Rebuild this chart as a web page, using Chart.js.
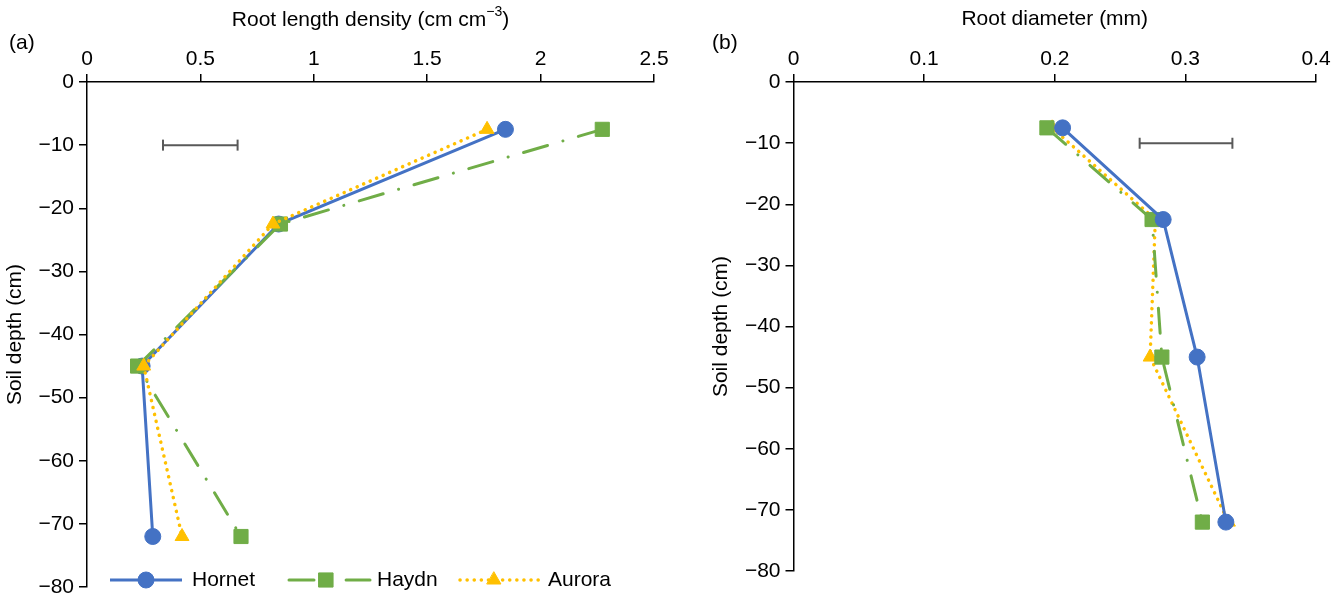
<!DOCTYPE html>
<html>
<head>
<meta charset="utf-8">
<script src="https://cdn.jsdelivr.net/npm/chart.js@4"></script>
<style>
  body { margin:0; background:#fff; width:1343px; height:598px; overflow:hidden; font-family:'Liberation Sans', Arial, sans-serif; }
  .box { position:absolute; top:0; height:598px; }
  #boxA { left:0; width:680px; }
  #boxB { left:690px; width:653px; }
  .tag { position:absolute; top:30px; font-size:21px; color:#000; }
</style>
</head>
<body>
<div class="box" id="boxA"><canvas id="chartA"></canvas></div>
<div class="box" id="boxB"><canvas id="chartB"></canvas></div>
<div class="tag" style="left:9px">(a)</div>
<div class="tag" style="left:712px">(b)</div>
<script>
// dubine (cm) i vrijednosti po sortama
const dubine = [-7.5, -22.5, -45, -72];
const sorte = ['Hornet', 'Haydn', 'Aurora'];
const boje = ['#4472C4', '#70AD47', '#FFC000'];

const gustinaHornet = [1.845, 0.845, 0.243, 0.29];
const gustinaHaydn = [2.272, 0.853, 0.223, 0.679];
const gustinaAurora = [1.764, 0.82, 0.25, 0.419];

const promjerHornet = [0.206, 0.283, 0.309, 0.331];
const promjerHaydn = [0.194, 0.2745, 0.282, 0.313];
const promjerAurora = [0.198, 0.277, 0.273, 0.333];

// LSD bar (x od-do, y)
const lsdGustina = [0.335, 0.664];
const lsdPromjer = [0.265, 0.336];
const lsdDubina = -10;

const font = "'Liberation Sans', Arial, sans-serif";
const fs = 21;

function serija(ime, xs, red) {
    let i = sorte.indexOf(ime);
    let s = {
        label: ime,
        data: xs.map((x, k) => ({x: x, y: dubine[k]})),
        showLine: true,
        borderColor: boje[i],
        backgroundColor: boje[i],
        pointBackgroundColor: boje[i],
        pointBorderColor: boje[i],
        pointBorderWidth: 1,
        borderWidth: 3,
        order: red
    };
    if (i === 0) { s.pointStyle = 'circle'; s.pointRadius = 8; }
    if (i === 1) { s.pointStyle = 'rect'; s.pointRadius = 10; s.borderDash = [25, 16, 0.1, 16]; s.borderCapStyle = 'round'; }
    if (i === 2) { s.pointStyle = 'triangle'; s.pointRadius = 8; s.borderDash = [0.1, 7]; s.borderCapStyle = 'round'; s.borderWidth = 3.5; }
    return s;
}

function lsd(xs) {
    return {
        label: 'lsd',
        data: xs.map(x => ({x: x, y: lsdDubina})),
        showLine: true,
        borderColor: '#595959',
        borderWidth: 2,
        pointStyle: 'line',
        pointRotation: 90,
        pointRadius: 5.5,
        pointBorderColor: '#595959',
        pointBorderWidth: 2,
        order: 0
    };
}

function minus(v) {
    return v < 0 ? '\u2212' + Math.abs(v) : String(v);
}

function broj(v) {
    return String(Number(v.toFixed(3)));
}

function skale(xmax, korak, naslov, yW, xH, yTitlePad) {
    return {
        x: {
            type: 'linear', position: 'top', min: 0, max: xmax,
            ticks: {stepSize: korak, color: '#000', font: {size: fs, family: font}, padding: 2, maxRotation: 0, callback: broj},
            grid: {drawOnChartArea: false, color: '#000', lineWidth: 1.5, tickLength: 8},
            border: {color: '#000', width: 1.5},
            title: {display: naslov !== '', text: naslov, color: '#000', font: {size: fs, family: font}, padding: {top: 7, bottom: 0}},
            afterFit(s) { s.height = xH; s.paddingLeft = 0; s.paddingRight = 0; }
        },
        y: {
            type: 'linear', position: 'left', min: -80, max: 0,
            ticks: {stepSize: 10, color: '#000', font: {size: fs, family: font}, padding: 5, callback: minus},
            grid: {drawOnChartArea: false, color: '#000', lineWidth: 1.5, tickLength: 8},
            border: {color: '#000', width: 1.5},
            title: {display: true, text: 'Soil depth (cm)', color: '#000', font: {size: fs, family: font}, padding: {top: yTitlePad, bottom: 0}},
            afterFit(s) { s.width = yW; s.paddingTop = 0; s.paddingBottom = 0; }
        }
    };
}

// naslov sa eksponentom
const naslovA = {
    id: 'naslovA',
    afterDraw(chart) {
        let ctx = chart.ctx;
        let a = chart.chartArea;
        let dijelovi = [['Root length density (cm cm', fs, 0], ['\u22123', 14, -8], [')', fs, 0]];
        ctx.save();
        ctx.fillStyle = '#000';
        ctx.textBaseline = 'middle';
        let sirina = 0;
        dijelovi.forEach(d => { ctx.font = d[1] + 'px ' + font; sirina += ctx.measureText(d[0]).width; });
        let x = (a.left + a.right) / 2 - sirina / 2;
        dijelovi.forEach(d => {
            ctx.font = d[1] + 'px ' + font;
            ctx.fillText(d[0], x, 20 + d[2]);
            x += ctx.measureText(d[0]).width;
        });
        ctx.restore();
    }
};

const legenda = {
    id: 'legenda',
    afterDatasetsDraw(chart) {
        let ctx = chart.ctx;
        let poz = [[110, 182, 146, 192], [289, 370, 326, 377], [460, 543, 494, 548]];
        let y = 580;
        ctx.save();
        chart.data.datasets.filter(d => d.label !== 'lsd').forEach(d => {
            let i = sorte.indexOf(d.label);
            let p = poz[i];
            ctx.strokeStyle = d.borderColor;
            ctx.fillStyle = d.borderColor;
            ctx.lineWidth = d.borderWidth;
            ctx.lineCap = d.borderCapStyle || 'butt';
            ctx.setLineDash(d.borderDash || []);
            ctx.beginPath();
            ctx.moveTo(p[0], y);
            ctx.lineTo(p[1], y);
            ctx.stroke();
            ctx.setLineDash([]);
            ctx.lineWidth = 1;
            Chart.helpers.drawPoint(ctx, {pointStyle: d.pointStyle, radius: d.pointRadius, rotation: 0, borderWidth: 1}, p[2], y);
            ctx.fillStyle = '#000';
            ctx.font = fs + 'px ' + font;
            ctx.textBaseline = 'middle';
            ctx.fillText(d.label, p[3], y);
        });
        ctx.restore();
    }
};

new Chart(document.getElementById('chartA'), {
    type: 'scatter',
    data: {datasets: [
        serija('Hornet', gustinaHornet, 3),
        serija('Haydn', gustinaHaydn, 2),
        serija('Aurora', gustinaAurora, 1),
        lsd(lsdGustina)
    ]},
    options: {
        responsive: true, maintainAspectRatio: false, animation: false,
        layout: {padding: {left: 0, top: 0, right: 26, bottom: 9}},
        plugins: {legend: {display: false}, tooltip: {enabled: false}},
        scales: skale(2.5, 0.5, '', 87, 82, 3)
    },
    plugins: [legenda, naslovA]
});

new Chart(document.getElementById('chartB'), {
    type: 'scatter',
    data: {datasets: [
        serija('Hornet', promjerHornet, 1),
        serija('Haydn', promjerHaydn, 2),
        serija('Aurora', promjerAurora, 3),
        lsd(lsdPromjer)
    ]},
    options: {
        responsive: true, maintainAspectRatio: false, animation: false,
        layout: {padding: {left: 0, top: 0, right: 27, bottom: 27}},
        plugins: {legend: {display: false}, tooltip: {enabled: false}},
        scales: skale(0.4, 0.1, 'Root diameter (mm)', 103.5, 82, 19)
    }
});
</script>
</body>
</html>
